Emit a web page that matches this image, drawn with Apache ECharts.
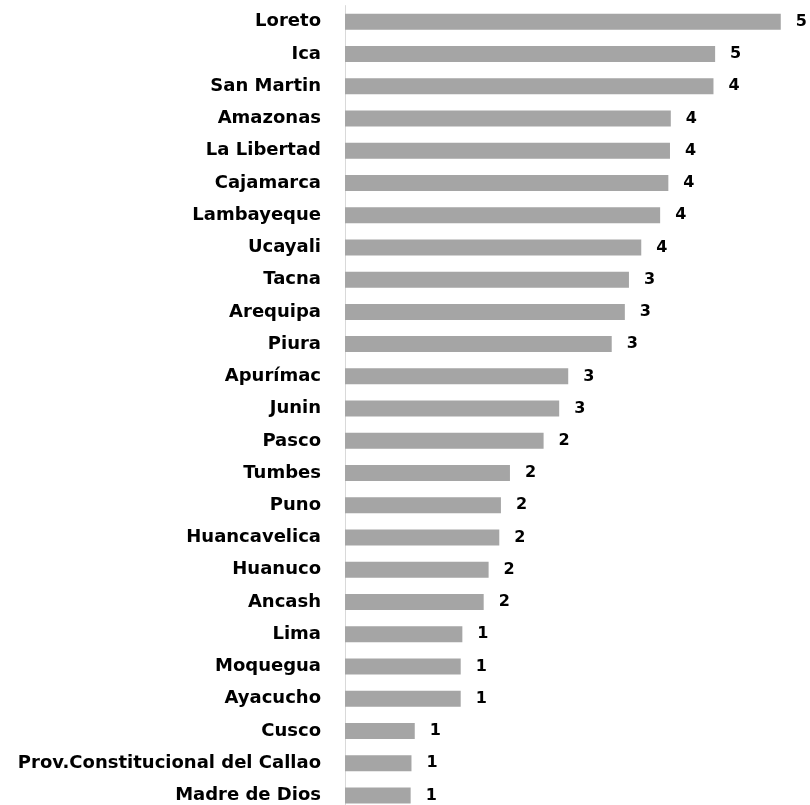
<!DOCTYPE html>
<html>
<head>
<meta charset="utf-8">
<script src="https://cdn.jsdelivr.net/npm/echarts@6/dist/echarts.min.js"></script>
<style>html,body{margin:0;padding:0;background:#fff;}#c{width:810px;height:805px;}</style>
</head>
<body>
<div id="c"></div>
<script>
var categories = ["Loreto","Ica","San Martin","Amazonas","La Libertad","Cajamarca","Lambayeque","Ucayali","Tacna","Arequipa","Piura","Apurímac","Junin","Pasco","Tumbes","Puno","Huancavelica","Huanuco","Ancash","Lima","Moquegua","Ayacucho","Cusco","Prov.Constitucional del Callao","Madre de Dios"];
var values = [5.31,4.51,4.49,3.97,3.96,3.94,3.84,3.61,3.46,3.41,3.25,2.72,2.61,2.42,2.01,1.90,1.88,1.75,1.69,1.43,1.41,1.41,0.85,0.81,0.80];

var chart = echarts.init(document.getElementById('c'));
var FONT = 'DejaVu Sans';
chart.setOption({
  animation: false,
  grid: {left: 345, top: 5.6, width: 492.4, height: 806, containLabel: false, outerBoundsMode: 'none'},
  xAxis: {type: 'value', min: 0, max: 6, show: false},
  yAxis: {
    type: 'category', data: categories, inverse: true,
    axisLine: {show: true, lineStyle: {color: '#d9d9d9', width: 1}},
    axisTick: {show: false},
    axisLabel: {margin: 24, color: '#000', fontFamily: FONT, fontWeight: 'bold', fontSize: 18}
  },
  series: [{
    type: 'bar', data: values, barWidth: 16,
    itemStyle: {color: '#a5a5a5'},
    label: {show: true, position: 'right', distance: 15, color: '#000', fontFamily: FONT, fontWeight: 'bold', fontSize: 16,
      formatter: function(p){ return Math.round(p.value); }}
  }]
});
</script>
</body>
</html>
